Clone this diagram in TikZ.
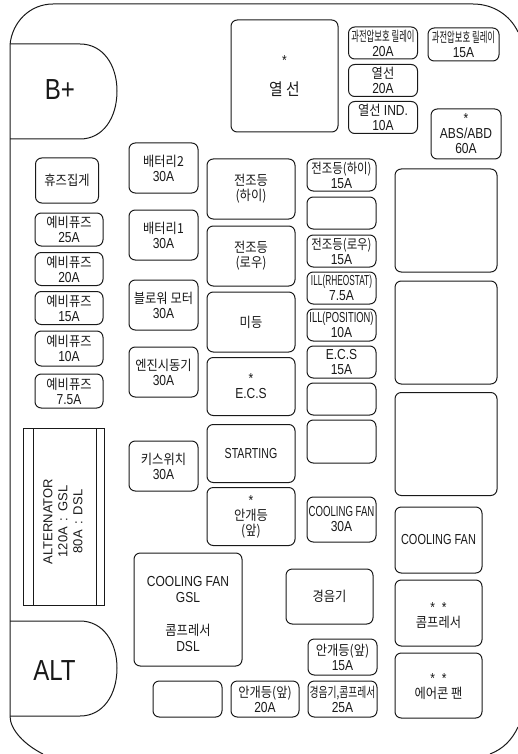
\documentclass[tikz,border=0pt]{standalone}
\usepackage{fontspec}
\setmainfont[FakeStretch=0.83]{Liberation Sans}
\newfontfamily\krfont[Scale=0.95,FakeStretch=0.89]{Noto Sans CJK KR}
\newfontfamily\widefont{Liberation Sans}
\newcommand{\kr}[1]{{\krfont #1}}
\tikzset{
	box/.style 2 args={draw,rounded corners=2.2mm,inner sep=0pt,outer sep=0pt,align=center,minimum width=#1,minimum height=#2},
	smallfuse/.style={box={69pt}{32pt}},
	midfuse/.style={box={69pt}{50pt}},
	bigbox/.style={box={88pt}{58pt}},
	sidebox/.style={box={102pt}{103pt}},
	lowbox/.style={box={87pt}{66pt}},
	sparefuse/.style={box={68pt}{33pt}},
}
\begin{document}
\begin{tikzpicture}[x=1pt,y=-1pt,line width=1pt,color=black!90,font=\fontsize{14.5}{15}\selectfont]
	\useasboundingbox (0,0) rectangle (518,754);
	% outline
	\draw (43,754) .. controls (25,745) and (10,730) .. (10,716) -- (10,45) .. controls (12,22) and (30,4) .. (53,4) -- (473,4) .. controls (493,4) and (510,15) .. (518,32);
	\draw (518,727) .. controls (512,740) and (503,749) .. (490,754);
	% terminals
	\draw (10,44) -- (80,44) .. controls (103,44) and (117,65) .. (117,91) .. controls (117,118) and (103,139) .. (80,139) -- (10,139);
	\draw (10,621) -- (80,621) .. controls (103,621) and (117,642) .. (117,668) .. controls (117,695) and (103,716) .. (80,716) -- (10,716);
	\node[inner sep=0pt,font=\fontsize{29}{29}\selectfont] (bplus) at (60,90) {B+};
	\node[inner sep=0pt,font=\fontsize{29}{29}\selectfont] (alt) at (54.5,671) {ALT};
	% fuse column
	\node[box={63pt}{45pt}] (fusepuller) at (67,180.5) {\kr{휴즈집게}};
	\node[sparefuse] (spare25) at (69,229.5) {\kr{예비퓨즈}\\25A};
	\node[sparefuse] (spare20) at (69,269) {\kr{예비퓨즈}\\20A};
	\node[sparefuse] (spare15) at (69,308) {\kr{예비퓨즈}\\15A};
	\node[box={68pt}{35pt}] (spare10) at (69,348.5) {\kr{예비퓨즈}\\10A};
	\node[box={68pt}{34pt}] (spare75) at (69,391) {\kr{예비퓨즈}\\7.5A};
	% alternator fuse
	\draw (23,428) rectangle (104,605);
	\draw (33,428) -- (33,605);
	\draw (96,428) -- (96,605);
	\node[rotate=90,align=center,inner sep=0pt,font=\widefont\fontsize{13}{15}\selectfont] (alternator) at (63,521.5) {ALTERNATOR\\120A\ \,:\ \,GSL\\80A\ \,:\ \,DSL};
	% 30A column
	\node[midfuse] (battery2) at (163.5,168) {\kr{배터리2}\\30A};
	\node[midfuse] (battery1) at (163.5,235) {\kr{배터리1}\\30A};
	\node[midfuse] (blower) at (163.5,305) {\kr{블로워 모터}\\30A};
	\node[midfuse] (starter) at (163.5,372) {\kr{엔진시동기}\\30A};
	\node[midfuse] (keyswitch) at (163.5,466) {\kr{키스위치}\\30A};
	% centre column
	\node[box={88pt}{60pt}] (headhigh) at (251,189) {\kr{전조등}\\\kr{(하이)}};
	\node[box={88pt}{60pt}] (headlow) at (251,256) {\kr{전조등}\\\kr{(로우)}};
	\node[box={88pt}{60pt}] (taillamp) at (251,322) {\kr{미등}};
	\node[bigbox] (ecsrelay) at (251,386.5) {*\\E.C.S};
	\node[bigbox] (starting) at (251,453.5) {\scalebox{0.88}[1]{STARTING}};
	\node[bigbox] (foglamp) at (251,516.5) {*\\\kr{안개등}\\\kr{(앞)}};
	% defogger
	\node[box={107pt}{112pt},font=\fontsize{17.5}{30}\selectfont] (defog) at (284.5,76) {\fontsize{14.5}{30}\selectfont *\\\kr{열 선}};
	\node[smallfuse] (relay20) at (383,43) {\scalebox{0.68}[1]{\kr{과전압보호 릴레이}}\\20A};
	\node[smallfuse] (defog20) at (383,80.5) {\kr{열선}\\20A};
	\node[smallfuse] (defogind) at (383,117.5) {\kr{열선} IND.\\10A};
	\node[box={71pt}{33pt}] (relay15) at (463.5,44.5) {\scalebox{0.68}[1]{\kr{과전압보호 릴레이}}\\15A};
	\node[box={70pt}{50pt}] (abs) at (466,134) {*\\ABS/ABD\\60A};
	% small fuse column
	\node[smallfuse] (headhigh15) at (341.5,175) {\scalebox{0.93}[1]{\kr{전조등(하이)}}\\15A};
	\node[smallfuse] (emptya) at (341.5,213) {};
	\node[smallfuse] (headlow15) at (341.5,251) {\scalebox{0.93}[1]{\kr{전조등(로우)}}\\15A};
	\node[smallfuse] (rheostat) at (341.5,288) {\scalebox{0.69}[1]{ILL(RHEOSTAT)}\\7.5A};
	\node[smallfuse] (position) at (341.5,325) {\scalebox{0.78}[1]{ILL(POSITION)}\\10A};
	\node[smallfuse] (ecs15) at (341.5,362) {E.C.S\\15A};
	\node[smallfuse] (emptyb) at (341.5,399) {};
	\node[box={69pt}{43pt}] (emptyc) at (341.5,441.5) {};
	\node[box={69pt}{45pt}] (cooling30) at (341.5,519.5) {\scalebox{0.8}[1]{COOLING FAN}\\30A};
	% right column
	\node[sidebox] (emptyd) at (446,220.5) {};
	\node[sidebox] (emptye) at (446,332.5) {};
	\node[sidebox] (emptyf) at (446,444) {};
	\node[lowbox] (coolingfan) at (438.5,540) {\scalebox{0.91}[1]{COOLING FAN}};
	\node[lowbox] (compressor) at (438.5,613) {\rule{0pt}{16pt}*\ \ *\\\kr{콤프레서}};
	\node[box={87pt}{65pt}] (aircon) at (438.5,685.5) {\rule{0pt}{13pt}*\ \ *\\\kr{에어콘 팬}};
	% bottom
	\node[box={108pt}{113pt},font=\fontsize{14.5}{16}\selectfont] (coolinggsl) at (188,609.5) {\rule{0pt}{20pt}COOLING FAN\\GSL\\[17pt]\kr{콤프레서}\\DSL};
	\node[box={87pt}{55pt}] (horn) at (329.5,596.5) {\kr{경음기}};
	\node[box={69pt}{36pt}] (fog15) at (342.5,657) {\kr{안개등(앞)}\\15A};
	\node[box={69pt}{36pt}] (horncomp) at (342.5,699) {\scalebox{0.8}[1]{\kr{경음기,콤프레서}}\\25A};
	\node[box={68pt}{36pt}] (fog20) at (265,699) {\kr{안개등(앞)}\\20A};
	\node[box={69pt}{36pt}] (emptyg) at (187.5,699) {};
\end{tikzpicture}
\end{document}
